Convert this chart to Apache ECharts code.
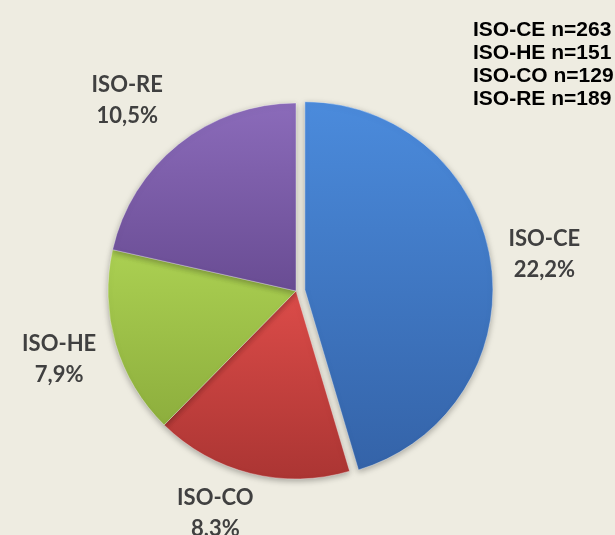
<!DOCTYPE html>
<html>
<head>
<meta charset="utf-8">
<script src="https://cdn.jsdelivr.net/npm/echarts@6/dist/echarts.min.js"></script>
<style>
  html, body { margin: 0; padding: 0; background: #eeece1; }
  #chart { width: 615px; height: 535px; }
</style>
</head>
<body>
<div id="chart"></div>
<script>
// slices clockwise from 12 o'clock
const categories = ['ISO-CE', 'ISO-CO', 'ISO-HE', 'ISO-RE']
const percents = [22.2, 8.3, 7.9, 10.5]
// sample sizes, in the order of the note at top right
const noteGroups = ['ISO-CE', 'ISO-HE', 'ISO-CO', 'ISO-RE']
const noteCounts = [263, 151, 129, 189]

const COLORS = {
  'ISO-CE': ['#4b8bdc', '#3463a8'],
  'ISO-CO': ['#dc4c49', '#ab3533'],
  'ISO-HE': ['#abd052', '#8dae3d'],
  'ISO-RE': ['#8b6bba', '#694c93'],
}
// small nudges so labels sit where the original put them
const LABEL_NUDGE = {
  'ISO-CO': [-20, -21],
  'ISO-RE': [-12, 5],
  'ISO-HE': [4, -2],
}

function grad(name) {
  const c = COLORS[name]
  return new echarts.graphic.LinearGradient(0, 0, 0, 1, [
    { offset: 0, color: c[0] },
    { offset: 1, color: c[1] },
  ])
}

const fmtPct = v => String(v).replace('.', ',') + '%'

const center = [296, 291]

const chart = echarts.init(document.getElementById('chart'))
chart.setOption({
  backgroundColor: '#eeece1',
  animation: false,
  title: {
    text: noteGroups.map((g, i) => g + ' n=' + noteCounts[i]).join('\n'),
    left: 473,
    top: 19,
    padding: 0,
    textStyle: { fontFamily: 'Liberation Sans', fontWeight: 'bold', fontSize: 21, lineHeight: 23, color: '#000' },
  },
  series: [
    {
      type: 'pie',
      center,
      radius: 188,
      startAngle: 90,
      clockwise: true,
      selectedMode: 'single',
      selectedOffset: 9,
      silent: true,
      label: { show: false },
      labelLine: { show: false },
      itemStyle: {
        borderColor: 'rgba(255,255,255,0.35)',
        borderWidth: 1,
        shadowBlur: 6,
        shadowColor: 'rgba(0,0,0,0.3)',
        shadowOffsetY: 2,
      },
      data: categories.map((name, i) => ({
        name,
        value: percents[i],
        selected: i === 0,
        itemStyle: { color: grad(name) },
      })),
    },
    {
      // invisible ring that only carries the category labels
      type: 'pie',
      center,
      radius: [236, 260],
      startAngle: 90,
      clockwise: true,
      silent: true,
      itemStyle: { color: 'transparent' },
      labelLine: { show: false },
      label: {
        show: true,
        position: 'inside',
        fontFamily: 'Lato',
        fontWeight: 'bold',
        fontSize: 22,
        lineHeight: 31,
        color: '#404040',
        formatter: p => p.name + '\n' + fmtPct(p.value),
      },
      data: categories.map((name, i) => ({
        name,
        value: percents[i],
        label: LABEL_NUDGE[name] ? { offset: LABEL_NUDGE[name] } : undefined,
      })),
    },
  ],
})
</script>
</body>
</html>
